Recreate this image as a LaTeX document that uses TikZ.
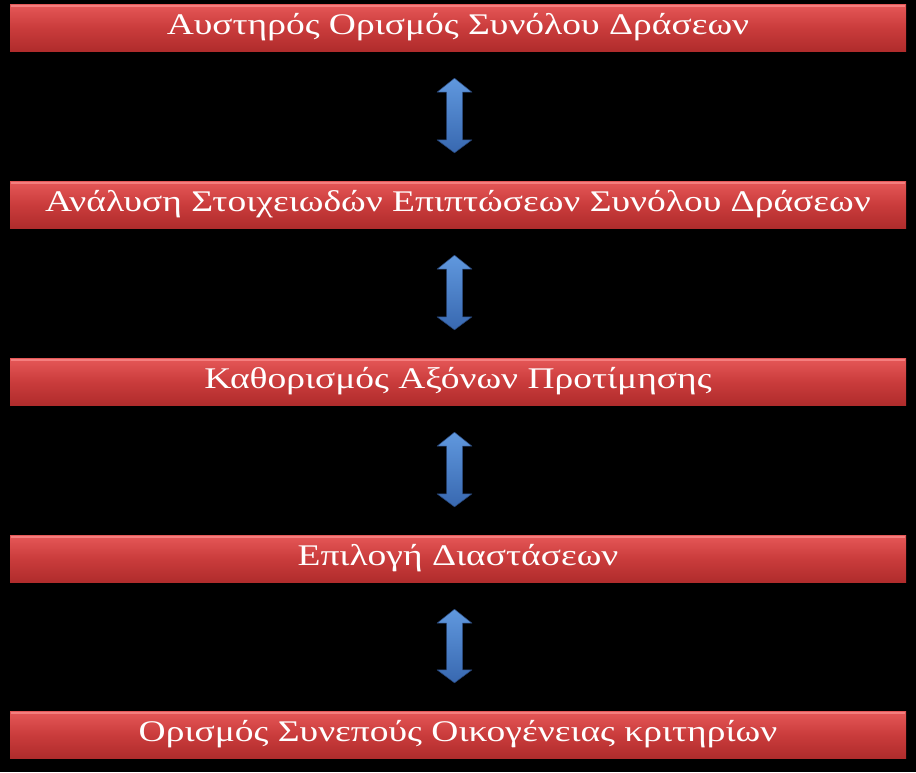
\documentclass[tikz,border=0pt]{standalone}
\usepackage{fontspec}
\usepackage{graphicx}
\setmainfont{Liberation Serif}
\usetikzlibrary{calc}
\definecolor{bartop}{RGB}{230,88,88}
\definecolor{barmid}{RGB}{202,60,60}
\definecolor{barbot}{RGB}{176,44,44}
\definecolor{barhi}{RGB}{244,126,126}
\definecolor{arrtop}{RGB}{96,152,222}
\definecolor{arrbot}{RGB}{56,104,176}
\definecolor{arredge}{RGB}{40,70,120}
\tikzset{
  bar/.style={rectangle, minimum width=896pt, minimum height=47pt, inner sep=0pt,
    top color=bartop, bottom color=barbot, middle color=barmid,
    text=white, font=\fontsize{30}{34}\selectfont},
  arrfill/.style={top color=arrtop, bottom color=arrbot, draw=arredge, line width=0.5pt, line join=round},
}
\newcommand\bartext[1]{\scalebox{1.25}[1]{#1}}
\newcommand\dblarr[2]{%
  \coordinate (T) at ($(#1.south)+(-3.5,27)$);
  \coordinate (B) at ($(#2.north)+(-3.5,-28)$);
  \path[arrfill] (T) -- ($(T)+(17.5,14)$) -- ($(T)+(8,14)$) -- ($(B)+(8,-13)$)
    -- ($(B)+(17.5,-13)$) -- (B) -- ($(B)+(-17.5,-13)$) -- ($(B)+(-8,-13)$)
    -- ($(T)+(-8,14)$) -- ($(T)+(-17.5,14)$) -- cycle;}
\begin{document}
\begin{tikzpicture}[x=1pt,y=-1pt]
\fill[black] (0,0) rectangle (916,772);
\useasboundingbox (0,0) rectangle (916,772);
\node[bar] (b1) at (458,27.5) {\bartext{Αυστηρός Ορισμός Συνόλου Δράσεων}};
\node[bar] (b2) at (458,204.5) {\bartext{Ανάλυση Στοιχειωδών Επιπτώσεων Συνόλου Δράσεων}};
\node[bar] (b3) at (458,381.5) {\bartext{Καθορισμός Αξόνων Προτίμησης}};
\node[bar] (b4) at (458,558.5) {\bartext{Επιλογή Διαστάσεων}};
\node[bar] (b5) at (458,734.5) {\bartext{Ορισμός Συνεπούς Οικογένειας κριτηρίων}};
\foreach \b in {b1,b2,b3,b4,b5}{
  \fill[barhi] ($(\b.north west)+(1,1)$) rectangle ($(\b.north east)+(-1,3)$);
}
\dblarr{b1}{b2}
\dblarr{b2}{b3}
\dblarr{b3}{b4}
\dblarr{b4}{b5}
\end{tikzpicture}
\end{document}
